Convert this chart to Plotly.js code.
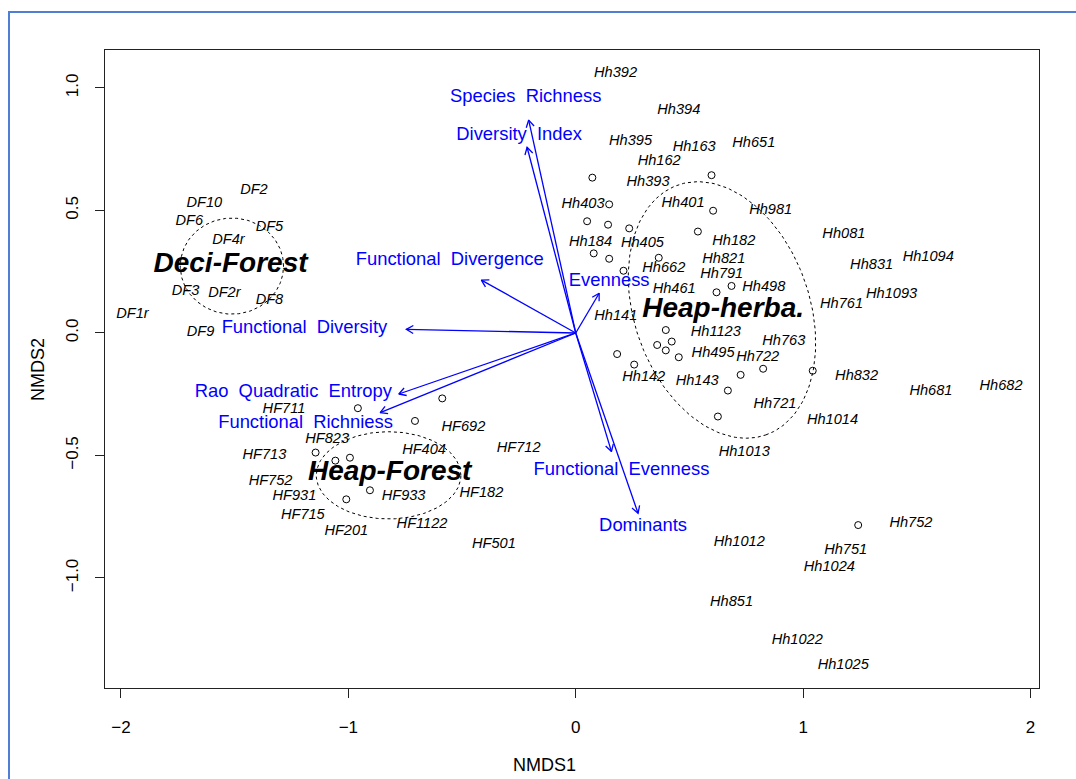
<!DOCTYPE html>
<html>
<head>
<meta charset="utf-8">
<script src="https://cdn.plot.ly/plotly-3.0.1.min.js"></script>
<style>
  html, body { margin: 0; padding: 0; background: #fff; }
  #chart { width: 1076px; height: 779px; }
</style>
</head>
<body>
<div id="chart"></div>
<script>
// ---- NMDS site scores (label positions) ----
const dfSites = ['DF2', 'DF10', 'DF6', 'DF5', 'DF4r', 'DF3', 'DF2r', 'DF8', 'DF1r', 'DF9'];
const dfX = [-1.415, -1.633, -1.699, -1.347, -1.527, -1.716, -1.545, -1.347, -1.949, -1.650];
const dfY = [0.584, 0.531, 0.457, 0.433, 0.380, 0.171, 0.163, 0.135, 0.078, 0.004];

const hfSites = ['HF711', 'HF823', 'HF713', 'HF752', 'HF931', 'HF715', 'HF201', 'HF404', 'HF933',
                 'HF1122', 'HF692', 'HF182', 'HF712', 'HF501'];
const hfX = [-1.283, -1.093, -1.369, -1.342, -1.237, -1.200, -1.009, -0.667, -0.757,
             -0.676, -0.494, -0.415, -0.251, -0.360];
const hfY = [-0.310, -0.434, -0.498, -0.607, -0.665, -0.743, -0.808, -0.478, -0.668,
             -0.780, -0.385, -0.654, -0.469, -0.862];

const hhSites = ['Hh392', 'Hh394', 'Hh395', 'Hh163', 'Hh651', 'Hh162', 'Hh393', 'Hh403', 'Hh401',
                 'Hh184', 'Hh405', 'Hh182', 'Hh821', 'Hh662', 'Hh791', 'Hh461', 'Hh498', 'Hh981',
                 'Hh141', 'Hh1123', 'Hh763', 'Hh495', 'Hh722', 'Hh142', 'Hh143', 'Hh721', 'Hh1014',
                 'Hh1013', 'Hh081', 'Hh831', 'Hh1094', 'Hh761', 'Hh1093', 'Hh832', 'Hh681', 'Hh682',
                 'Hh752', 'Hh751', 'Hh1024', 'Hh1012', 'Hh851', 'Hh1022', 'Hh1025'];
const hhX = [0.175, 0.453, 0.241, 0.521, 0.783, 0.367, 0.318, 0.032, 0.472,
             0.065, 0.293, 0.695, 0.651, 0.387, 0.642, 0.433, 0.827, 0.857,
             0.176, 0.616, 0.915, 0.604, 0.800, 0.299, 0.534, 0.876, 1.129,
             0.741, 1.179, 1.301, 1.550, 1.169, 1.389, 1.235, 1.562, 1.870,
             1.474, 1.187, 1.115, 0.719, 0.685, 0.974, 1.176];
const hhY = [1.060, 0.907, 0.781, 0.756, 0.776, 0.699, 0.614, 0.525, 0.529,
             0.369, 0.366, 0.373, 0.302, 0.264, 0.238, 0.178, 0.186, 0.499,
             0.067, 0.003, -0.033, -0.083, -0.101, -0.181, -0.197, -0.290, -0.358,
             -0.488, 0.403, 0.275, 0.307, 0.117, 0.158, -0.176, -0.237, -0.219,
             -0.776, -0.886, -0.958, -0.856, -1.099, -1.256, -1.358];

// ---- plotted point symbols ----
const ptX = [-0.958, -0.587, -0.707, -1.144, -1.057, -0.993, -0.905, -1.009,
             0.073, 0.597, 0.147, 0.604, 0.050, 0.142, 0.235, 0.537, 0.079, 0.147,
             0.365, 0.210, 0.685, 0.619, 0.396, 0.422, 0.358, 0.396, 0.453, 0.182,
             0.257, 0.725, 0.824, 0.669, 1.042, 0.625, 1.242];
const ptY = [-0.307, -0.267, -0.359, -0.488, -0.521, -0.509, -0.642, -0.679,
             0.634, 0.644, 0.525, 0.499, 0.456, 0.442, 0.427, 0.414, 0.325, 0.303,
             0.307, 0.254, 0.192, 0.166, 0.012, -0.035, -0.049, -0.071, -0.099, -0.086,
             -0.129, -0.171, -0.146, -0.235, -0.154, -0.341, -0.784];

// ---- groups: name, label centre, ellipse centre and conjugate semi-axes ----
const groupNames = ['Deci-Forest', 'Heap-Forest', 'Heap-herba.'];
const groupLabX = [-1.518, -0.818, 0.648];
const groupLabY = [0.278, -0.571, 0.094];
const ellCX = [-1.512, -0.823, 0.643];
const ellCY = [0.273, -0.581, 0.094];
const ellUX = [0.227, 0.318, 0.193];
const ellUY = [0.0, 0.0, -0.510];
const ellVX = [0.0, 0.0, 0.364];
const ellVY = [0.196, 0.178, 0.118];

// ---- fitted environmental vectors ----
const vecNames = ['Species Richness', 'Diversity Index', 'Functional Divergence', 'Functional Diversity',
                  'Evenness', 'Rao Quadratic Entropy', 'Functional Richniess', 'Functional Evenness', 'Dominants'];
const vecX = [-0.207, -0.214, -0.415, -0.745, 0.103, -0.778, -0.860, 0.157, 0.274];
const vecY = [0.869, 0.758, 0.216, 0.015, 0.162, -0.249, -0.325, -0.484, -0.736];
const vecLabX = [-0.220, -0.249, -0.554, -1.193, 0.147, -1.242, -1.188, 0.201, 0.296];
const vecLabY = [0.962, 0.805, 0.298, 0.020, 0.209, -0.244, -0.369, -0.562, -0.790];

// ---- axes ----
const xTicks = [-2, -1, 0, 1, 2];
const yTicks = [-1.0, -0.5, 0.0, 0.5, 1.0];
const xRange = [-2.07, 2.037];
const yRange = [-1.449, 1.155];

// ---- page geometry ----
const W = 1076, H = 779;
const M = { l: 105, r: 37, t: 50, b: 91 };
const plotW = W - M.l - M.r, plotH = H - M.t - M.b;
const sx = plotW / (xRange[1] - xRange[0]);
const sy = plotH / (yRange[1] - yRange[0]);

const FONT = 'Liberation Sans, Arial, Helvetica, sans-serif';
const BLUE = '#0000ff';

const traces = [];

// dotted group ellipses
for (let g = 0; g < groupNames.length; g++) {
  const ex = [], ey = [];
  for (let i = 0; i <= 200; i++) {
    const t = 2 * Math.PI * i / 200;
    ex.push(ellCX[g] + ellUX[g] * Math.cos(t) + ellVX[g] * Math.sin(t));
    ey.push(ellCY[g] + ellUY[g] * Math.cos(t) + ellVY[g] * Math.sin(t));
  }
  traces.push({
    type: 'scatter', mode: 'lines', x: ex, y: ey,
    line: { color: '#000', width: 1, dash: 'dot' }, hoverinfo: 'skip'
  });
}

// vector arrows: shaft plus open V head computed in pixel space
const ax = [], ay = [];
const headLen = 8, headAng = Math.PI / 6;
for (let i = 0; i < vecNames.length; i++) {
  const tx = vecX[i], ty = vecY[i];
  const px = tx * sx, py = ty * sy;
  const len = Math.hypot(px, py);
  const ux = px / len, uy = py / len;
  ax.push(0, tx, null);
  ay.push(0, ty, null);
  const arms = [headAng, -headAng].map(a => {
    const bx = -ux * Math.cos(a) + uy * Math.sin(a);
    const by = -ux * Math.sin(a) - uy * Math.cos(a);
    return [tx + bx * headLen / sx, ty + by * headLen / sy];
  });
  ax.push(arms[0][0], tx, arms[1][0], null);
  ay.push(arms[0][1], ty, arms[1][1], null);
}
traces.push({
  type: 'scatter', mode: 'lines', x: ax, y: ay,
  line: { color: BLUE, width: 1.3 }, hoverinfo: 'skip', connectgaps: false
});

// open point symbols
traces.push({
  type: 'scatter', mode: 'markers', x: ptX, y: ptY,
  marker: { symbol: 'circle-open', size: 7, color: '#000', line: { width: 1, color: '#000' } },
  hoverinfo: 'skip'
});

// site labels
const siteFont = { family: FONT, size: 14.6, color: '#000', style: 'italic' };
[[dfSites, dfX, dfY], [hfSites, hfX, hfY], [hhSites, hhX, hhY]].forEach(([t, x, y]) => {
  traces.push({
    type: 'scatter', mode: 'text', x: x, y: y, text: t,
    textposition: 'middle center', textfont: siteFont, hoverinfo: 'skip'
  });
});

// vector labels (words separated by double spaces)
traces.push({
  type: 'scatter', mode: 'text', x: vecLabX, y: vecLabY,
  text: vecNames.map(s => s.replace(/ /g, '\u00a0\u00a0')),
  textposition: 'middle center',
  textfont: { family: FONT, size: 18.4, color: BLUE }, hoverinfo: 'skip'
});

// group labels
traces.push({
  type: 'scatter', mode: 'text', x: groupLabX, y: groupLabY, text: groupNames,
  textposition: 'middle center',
  textfont: { family: FONT, size: 28, color: '#000', style: 'italic', weight: 'bold' },
  hoverinfo: 'skip'
});

// pixel -> paper helpers for the frame and axis titles
const pxToPaperX = p => (p - M.l) / plotW;
const pxToPaperY = p => (H - M.b - p) / plotH;
const titleFont = { size: 18, family: FONT, color: '#000' };

const layout = {
  width: W, height: H,
  margin: M,
  paper_bgcolor: '#fff', plot_bgcolor: '#fff',
  showlegend: false,
  font: { family: FONT, color: '#000' },
  xaxis: {
    range: xRange, tickvals: xTicks, ticktext: xTicks.map(v => v < 0 ? '\u2212' + Math.abs(v) : String(v)),
    showgrid: false, zeroline: false,
    showline: true, mirror: true, linecolor: '#222', linewidth: 1.3,
    ticks: 'outside', ticklen: 9, tickwidth: 1, tickcolor: '#222',
    tickfont: { size: 17, family: FONT, color: '#000' },
    ticklabelstandoff: 14
  },
  yaxis: {
    range: yRange, tickvals: yTicks,
    ticktext: yTicks.map(v => (v < 0 ? '\u2212' : '') + Math.abs(v).toFixed(1)),
    tickangle: -90,
    showgrid: false, zeroline: false,
    showline: true, mirror: true, linecolor: '#222', linewidth: 1.3,
    ticks: 'outside', ticklen: 9, tickwidth: 1, tickcolor: '#222',
    tickfont: { size: 17, family: FONT, color: '#000' },
    ticklabelstandoff: 10
  },
  annotations: [
    { text: 'NMDS1', xref: 'paper', yref: 'paper', x: pxToPaperX(544), y: pxToPaperY(765),
      xanchor: 'center', yanchor: 'middle', showarrow: false, font: titleFont },
    { text: 'NMDS2', xref: 'paper', yref: 'paper', x: pxToPaperX(38), y: pxToPaperY(370),
      xanchor: 'center', yanchor: 'middle', textangle: -90, showarrow: false, font: titleFont }
  ],
  shapes: [{
    type: 'rect', xref: 'paper', yref: 'paper',
    x0: pxToPaperX(9), x1: pxToPaperX(W + 40),
    y0: pxToPaperY(H + 40), y1: pxToPaperY(12),
    line: { color: '#4f7fd4', width: 2 }, fillcolor: 'rgba(0,0,0,0)', layer: 'below'
  }]
};

Plotly.newPlot('chart', traces, layout, { staticPlot: true, displayModeBar: false });
</script>
</body>
</html>
